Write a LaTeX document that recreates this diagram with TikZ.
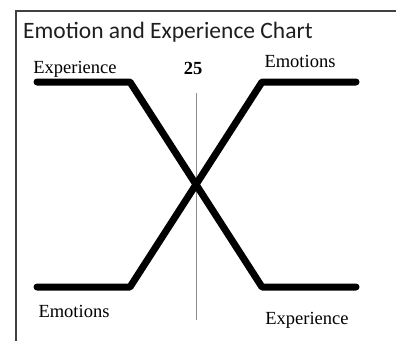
\documentclass[tikz,border=0pt]{standalone}
\usepackage{fontspec}
\setmainfont{Liberation Serif}
\newfontfamily\titlefont{Carlito}
\usepackage{tikz}
\usetikzlibrary{positioning}
\usepackage{xcolor}

\begin{document}
\begin{tikzpicture}[x=1pt, y=-1pt,
    frame/.style={line width=1.5pt, black!75},
    trend/.style={line width=7pt, line cap=round, line join=round},
    label/.style={anchor=base, inner sep=0pt, font=\fontsize{18.5}{20}\selectfont}]
    \useasboundingbox (0,0) rectangle (396,341);
    \fill[white] (0,0) rectangle (396,341);

    % Frame
    \coordinate (corner) at (16,11);
    \coordinate (topend) at (396,11);
    \coordinate (leftend) at (16,341);
    \draw[frame] (topend) -- (corner) -- (leftend);

    % Title
    \node[anchor=base west, inner sep=0pt, text=black!88, font=\titlefont\fontsize{23.5}{25}\selectfont] (title) at (23,38) {Emotion and Experience Chart};

    % Age line
    \coordinate (agetop) at (196,93);
    \coordinate (agebottom) at (196,320);
    \draw[line width=1pt, black!45] (agetop) -- (agebottom);
    \node[label, font=\fontsize{18.5}{20}\selectfont\bfseries] (age) at (193,74) {25};

    % Experience falls
    \coordinate (expstart) at (37,82);
    \coordinate (expknee) at (130,82);
    \coordinate (expfoot) at (262,287);
    \coordinate (expend) at (356,287);
    \draw[trend] (expstart) -- (expknee) -- (expfoot) -- (expend);

    % Emotions rise
    \coordinate (emostart) at (37,287);
    \coordinate (emofoot) at (130,287);
    \coordinate (emoknee) at (262,82);
    \coordinate (emoend) at (356,82);
    \draw[trend] (emostart) -- (emofoot) -- (emoknee) -- (emoend);

    % Labels
    \node[label] (exptop) at (75,73) {Experience};
    \node[label] (emotop) at (300,67) {Emotions};
    \node[label] (emobottom) at (74,317) {Emotions};
    \node[label] (expbottom) at (307,324) {Experience};
\end{tikzpicture}
\end{document}
